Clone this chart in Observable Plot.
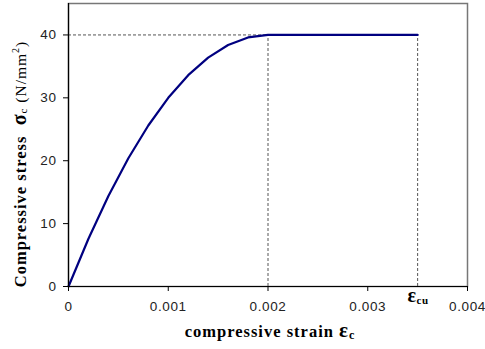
<!DOCTYPE html>
<html>
<head>
<meta charset="utf-8">
<script src="https://cdn.jsdelivr.net/npm/d3@7"></script>
<script src="https://cdn.jsdelivr.net/npm/@observablehq/plot@0.6"></script>
<style>
  html, body { margin: 0; padding: 0; background: #fff; }
  #chart { width: 485px; height: 349px; }
</style>
</head>
<body>
<div id="chart"></div>
<script>
// Data
const strain = [0, 0.0002, 0.0004, 0.0006, 0.0008, 0.001, 0.0012, 0.0014, 0.0016, 0.0018, 0.002,
                0.0022, 0.0024, 0.0026, 0.0028, 0.003, 0.0032, 0.0034, 0.0035];
const stress = [0, 7.6, 14.4, 20.4, 25.6, 30, 33.6, 36.4, 38.4, 39.6, 40,
                40, 40, 40, 40, 40, 40, 40, 40];
const peakStress = [40];
const peakStrain = [0.002];
const ultimateStrain = [0.0035];
const xTicks = [0, 0.001, 0.002, 0.003, 0.004];
const yTicks = [0, 10, 20, 30, 40];

const data = strain.map((e, i) => ({e, s: stress[i]}));

const svg = Plot.plot({
  width: 485,
  height: 349,
  marginLeft: 68,
  marginRight: 18,
  marginTop: 3,
  marginBottom: 63,
  x: {domain: [0, 0.004]},
  y: {domain: [0, 45]},
  style: {fontFamily: "'Liberation Sans', Arial, sans-serif", fontSize: "13.5px", color: "#222", background: "#fff", letterSpacing: "0.6px"},
  marks: [
    Plot.frame({stroke: "#777", strokeWidth: 1.5}),
    Plot.ruleY(peakStress, {y: d => d, x1: 0, x2: peakStrain[0], stroke: "#555", strokeDasharray: "3,2", strokeWidth: 1}),
    Plot.ruleX(peakStrain.concat(ultimateStrain), {x: d => d, y1: 0, y2: peakStress[0], stroke: "#555", strokeDasharray: "3,2", strokeWidth: 1}),
    Plot.line(data, {x: "e", y: "s", stroke: "#000080", strokeWidth: 2.2}),
    Plot.ruleX([0], {stroke: "#000", strokeWidth: 1.2}),
    Plot.ruleY([0], {stroke: "#000", strokeWidth: 1.2}),
    Plot.axisX({ticks: xTicks, tickSize: 5, tickPadding: 10, label: null, tickFormat: d => String(d), stroke: "#000"}),
    Plot.axisY({ticks: yTicks, tickSize: 5, tickPadding: 7, label: null, stroke: "#000"})
  ]
});
document.getElementById("chart").appendChild(svg);

const s = d3.select(svg);
const serif = "'Liberation Serif', 'Times New Roman', serif";

// Y axis label
const yl = s.append("text")
  .attr("transform", "translate(26,164) rotate(-90)")
  .attr("text-anchor", "middle")
  .attr("font-family", serif)
  .attr("letter-spacing", "1px")
  .attr("fill", "#000");
yl.append("tspan").attr("font-weight", "bold").attr("font-size", 16.5).text("Compressive stress\u00a0\u00a0");
yl.append("tspan").attr("font-weight", "bold").attr("font-size", 20).text("\u03c3");
yl.append("tspan").attr("font-size", 11).attr("dy", 1).text("c");
yl.append("tspan").attr("font-size", 15.5).attr("dy", -1).text(" (N/mm");
yl.append("tspan").attr("font-size", 10).attr("dy", -7).text("2");
yl.append("tspan").attr("font-size", 15.5).attr("dy", 7).text(")");

// X axis label
const xl = s.append("text")
  .attr("x", 270).attr("y", 337)
  .attr("text-anchor", "middle")
  .attr("font-family", serif)
  .attr("font-weight", "bold")
  .attr("letter-spacing", "1px")
  .attr("fill", "#000");
xl.append("tspan").attr("font-size", 16.5).text("compressive strain ");
xl.append("tspan").attr("font-size", 21).text("\u03b5");
xl.append("tspan").attr("font-size", 12).attr("dy", 2).text("c");

// epsilon_cu label
const xScale = svg.scale("x");
const cu = s.append("text")
  .attr("x", xScale.apply(ultimateStrain[0]) + 1).attr("y", 302)
  .attr("text-anchor", "middle")
  .attr("font-family", serif)
  .attr("font-weight", "bold")
  .attr("fill", "#000");
cu.append("tspan").attr("font-size", 20).text("\u03b5");
cu.append("tspan").attr("font-size", 11).attr("dy", 2).text("cu");
</script>
</body>
</html>
